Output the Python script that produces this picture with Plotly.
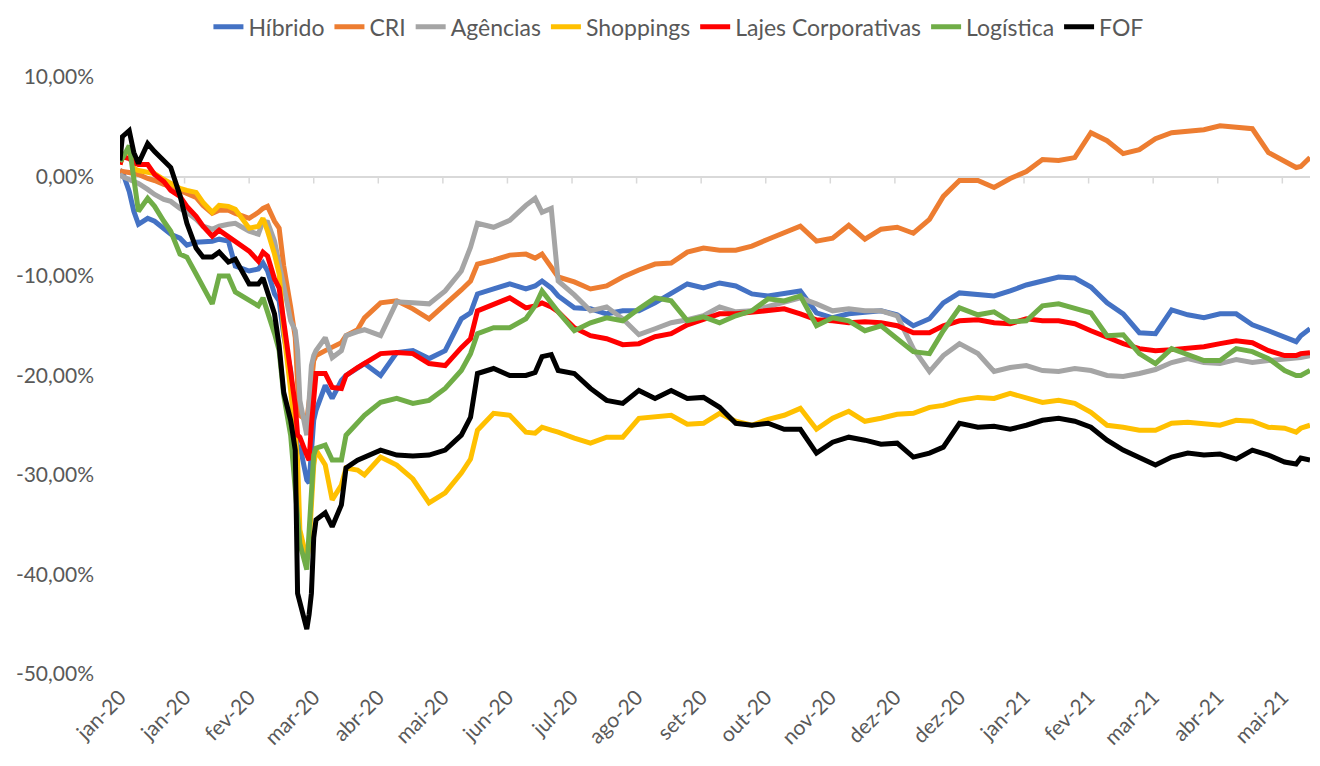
import plotly.graph_objects as go

# ---------------- data ----------------
dates_early = ["2020-01-02", "2020-01-03", "2020-01-06", "2020-01-08", "2020-01-10", "2020-01-14",
               "2020-01-17", "2020-01-21", "2020-01-24", "2020-01-28", "2020-01-31", "2020-02-04",
               "2020-02-07", "2020-02-11", "2020-02-14", "2020-02-18", "2020-02-21", "2020-02-27",
               "2020-03-02", "2020-03-04", "2020-03-06", "2020-03-09", "2020-03-11", "2020-03-13",
               "2020-03-16", "2020-03-18", "2020-03-19", "2020-03-20", "2020-03-23", "2020-03-24",
               "2020-03-25", "2020-03-26", "2020-03-27", "2020-03-31", "2020-04-03", "2020-04-07",
               "2020-04-09", "2020-04-14", "2020-04-17"]
dates_late = ["2020-04-24", "2020-05-01", "2020-05-08", "2020-05-15", "2020-05-22", "2020-05-29",
              "2020-06-02", "2020-06-05", "2020-06-12", "2020-06-19", "2020-06-26", "2020-06-30",
              "2020-07-03", "2020-07-07", "2020-07-10", "2020-07-17", "2020-07-24", "2020-07-31",
              "2020-08-07", "2020-08-14", "2020-08-21", "2020-08-28", "2020-09-04", "2020-09-11",
              "2020-09-18", "2020-09-25", "2020-10-02", "2020-10-09", "2020-10-16", "2020-10-23",
              "2020-10-30", "2020-11-06", "2020-11-13", "2020-11-20", "2020-11-27", "2020-12-04",
              "2020-12-11", "2020-12-18", "2020-12-24", "2020-12-31", "2021-01-08", "2021-01-15",
              "2021-01-22", "2021-01-29", "2021-02-05", "2021-02-12", "2021-02-19", "2021-02-26",
              "2021-03-05", "2021-03-12", "2021-03-19", "2021-03-26", "2021-04-02", "2021-04-09",
              "2021-04-16", "2021-04-23", "2021-04-30", "2021-05-07", "2021-05-14", "2021-05-21",
              "2021-05-26", "2021-05-28", "2021-06-01"]
dates = dates_early + dates_late

hibrido = [0.6, 0.5, -1.5, -3.5, -4.8, -4.2, -4.5, -5.3, -5.8, -6.2, -6.9, -6.6, -6.6, -6.5, -6.3,
           -6.5, -9.0, -9.5, -9.3, -8.7, -9.5, -11.8, -12.5, -16.0, -19.5, -25.0, -27.5, -27.0,
           -30.5, -30.8, -27.0, -24.5, -23.5, -21.0, -22.3, -20.5, -20.0, -19.3, -18.8,
           -20.0, -17.7, -17.5, -18.3, -17.5, -14.3, -13.7, -11.8, -11.3, -10.8, -11.3, -11.0,
           -10.5, -11.2, -12.0, -13.2, -13.3, -13.8, -13.5, -13.5, -12.7, -11.8, -10.8, -11.2,
           -10.7, -11.0, -11.8, -12.0, -11.7, -11.5, -13.7, -14.2, -13.8, -13.7, -13.5, -13.9,
           -15.0, -14.3, -12.7, -11.7, -11.9, -12.0, -11.5, -10.9, -10.5, -10.1, -10.2, -11.1,
           -12.7, -13.8, -15.7, -15.8, -13.4, -13.9, -14.2, -13.8, -13.8, -14.9, -15.5, -16.2,
           -16.6, -16.0, -15.3]
cri = [0.6, 0.5, 0.4, 0.3, 0.2, -0.2, -0.4, -0.8, -1.0, -1.4, -1.7, -2.1, -2.9, -3.7, -3.4,
       -3.4, -3.7, -4.2, -3.6, -3.2, -3.0, -4.5, -5.2, -9.0, -13.1, -16.2, -20.8, -24.0, -24.5,
       -23.0, -20.8, -18.5, -18.0, -17.5, -17.2, -16.7, -16.0, -15.4, -14.2,
       -12.7, -12.5, -13.3, -14.3, -12.9, -11.4, -10.5, -8.8, -8.4, -7.9, -7.8, -8.2, -7.8,
       -9.2, -10.1, -10.6, -11.3, -11.0, -10.1, -9.4, -8.8, -8.7, -7.6, -7.2, -7.4, -7.4,
       -7.0, -6.3, -5.7, -5.0, -6.5, -6.2, -4.9, -6.3, -5.3, -5.1, -5.7, -4.3, -2.0, -0.4,
       -0.4, -1.1, -0.2, 0.5, 1.7, 1.6, 1.9, 4.4, 3.6, 2.3, 2.7, 3.8, 4.4, 4.5, 4.7, 5.1, 5.0,
       4.8, 2.4, 1.5, 0.9, 1.0, 1.9]
agencias = [0.2, 0.0, -0.3, -0.5, -0.7, -1.3, -1.8, -2.3, -2.5, -3.2, -3.6, -4.3, -5.0, -5.3,
            -5.0, -4.8, -4.7, -5.5, -5.8, -4.5, -4.6, -6.5, -8.5, -11.0, -14.5, -15.5, -17.5,
            -22.5, -26.0, -23.0, -19.0, -18.0, -17.5, -16.2, -18.2, -17.5, -16.0, -15.6, -15.4,
            -16.0, -12.6, -12.7, -12.8, -11.5, -9.5, -7.1, -4.7, -5.1, -4.4, -2.9, -2.2, -3.6,
            -3.2, -10.5, -11.9, -13.5, -13.1, -14.3, -15.9, -15.3, -14.7, -14.4, -14.0, -13.1,
            -13.6, -13.5, -13.1, -12.7, -12.2, -12.8, -13.5, -13.3, -13.5, -13.5, -14.0, -17.3,
            -19.6, -18.0, -16.8, -17.8, -19.6, -19.2, -19.0, -19.5, -19.6, -19.3, -19.5, -20.0,
            -20.1, -19.8, -19.4, -18.7, -18.3, -18.7, -18.8, -18.4, -18.7, -18.5, -18.4, -18.3,
            -18.2, -18.0]
shoppings = [1.2, 2.0, 2.7, 0.8, 0.6, 0.4, 0.3, -0.3, -0.7, -1.2, -1.4, -1.6, -2.6, -3.6, -2.9,
             -3.0, -3.3, -5.2, -5.0, -4.2, -5.5, -7.8, -9.8, -15.5, -21.5, -25.5, -28.5, -35.5,
             -38.5, -37.0, -33.0, -29.0, -27.5, -29.0, -32.5, -31.0, -29.3, -29.5, -30.0,
             -28.2, -29.0, -30.4, -32.8, -31.8, -29.8, -28.4, -25.5, -23.8, -24.0, -25.7, -25.8,
             -25.2, -25.5, -25.7, -26.3, -26.8, -26.2, -26.2, -24.3, -24.2, -24.0, -24.9, -24.8,
             -23.8, -24.6, -25.0, -24.4, -24.0, -23.3, -25.4, -24.3, -23.6, -24.6, -24.3, -23.9,
             -23.8, -23.2, -23.0, -22.5, -22.2, -22.3, -21.8, -22.3, -22.7, -22.5, -22.8, -23.7,
             -25.0, -25.2, -25.5, -25.5, -24.8, -24.7, -24.9, -25.0, -24.5, -24.6, -25.2, -25.3,
             -25.7, -25.3, -25.0]
lajes = [1.2, 2.0, 1.8, 1.4, 1.2, 1.2, 0.2, -0.5, -1.4, -2.0, -3.0, -4.0, -5.0, -6.0, -5.4,
         -6.0, -6.5, -7.5, -8.5, -7.6, -8.0, -10.3, -11.2, -14.5, -18.8, -23.0, -26.0, -26.2,
         -28.0, -28.5, -25.0, -21.5, -19.8, -19.8, -21.2, -21.3, -20.0, -19.2, -18.8,
         -17.8, -17.7, -17.8, -18.8, -19.0, -17.2, -16.3, -13.5, -12.9, -12.2, -13.2, -13.0,
         -12.7, -13.1, -13.6, -15.2, -16.0, -16.3, -16.9, -16.8, -16.1, -15.8, -14.9, -14.3,
         -13.8, -13.8, -13.6, -13.4, -13.3, -13.8, -14.4, -14.5, -14.7, -14.6, -14.7, -15.0,
         -15.7, -15.7, -15.0, -14.5, -14.4, -14.7, -14.8, -14.3, -14.5, -14.5, -14.8, -15.5,
         -16.2, -16.8, -17.3, -17.5, -17.4, -17.3, -17.1, -16.8, -16.5, -16.7, -17.5, -18.0,
         -18.0, -17.8, -17.7]
logistica = [1.5, 1.8, 3.1, -0.3, -3.5, -2.2, -3.0, -4.5, -5.5, -7.8, -8.1, -9.8, -11.0, -12.8,
             -10.0, -10.0, -11.6, -12.5, -13.0, -12.2, -13.5, -15.8, -17.5, -22.0, -26.0, -32.0,
             -34.0, -36.9, -39.5, -36.0, -32.0, -28.0, -27.3, -27.0, -28.5, -28.5, -26.0, -24.8,
             -24.0,
             -22.7, -22.3, -22.8, -22.5, -21.3, -19.5, -17.8, -15.8, -15.2, -15.2, -14.3, -13.0,
             -11.5, -12.8, -13.6, -15.5, -14.7, -14.2, -14.5, -13.3, -12.2, -12.5, -14.5, -14.1,
             -14.7, -14.0, -13.5, -12.3, -12.5, -12.0, -15.0, -14.2, -14.5, -15.5, -15.0, -16.3,
             -17.6, -17.8, -15.5, -13.2, -13.9, -13.6, -14.6, -14.5, -13.0, -12.8, -13.3, -13.7,
             -16.0, -15.9, -17.8, -18.8, -17.3, -17.9, -18.5, -18.5, -17.3, -17.6, -18.3, -19.5,
             -20.0, -20.0, -19.5]
fof = [1.6, 4.0, 4.6, 2.4, 1.3, 3.3, 2.5, 1.6, 0.9, -1.9, -4.7, -7.2, -8.1, -8.1, -7.6, -8.6,
       -8.3, -10.8, -10.8, -10.2, -11.5, -13.8, -17.0, -21.7, -24.5, -27.5, -41.9, -42.9, -45.5,
       -44.0, -41.9, -36.3, -34.5, -33.8, -35.2, -33.0, -29.3, -28.5, -28.2,
       -27.5, -28.0, -28.1, -28.0, -27.5, -26.0, -24.2, -19.8, -19.3, -20.0, -20.0, -19.7,
       -18.1, -17.9, -19.5, -19.8, -21.3, -22.5, -22.8, -21.5, -22.3, -21.5, -22.3, -22.2,
       -23.2, -24.8, -25.0, -24.8, -25.4, -25.4, -27.8, -26.7, -26.2, -26.5, -26.9, -26.8,
       -28.2, -27.8, -27.2, -24.8, -25.2, -25.1, -25.4, -25.0, -24.5, -24.3, -24.6, -25.2,
       -26.5, -27.5, -28.2, -29.0, -28.2, -27.8, -28.0, -27.9, -28.4, -27.5, -28.0, -28.7,
       -28.9, -28.3, -28.5]

series_names = ["Híbrido", "CRI", "Agências", "Shoppings", "Lajes Corporativas", "Logística", "FOF"]
series_values = [hibrido, cri, agencias, shoppings, lajes, logistica, fof]
series_colors = ["#4472C4", "#ED7D31", "#A5A5A5", "#FFC000", "#FF0000", "#70AD47", "#000000"]

x_tick_dates = ["2020-01-02", "2020-01-30", "2020-02-27", "2020-03-26", "2020-04-23", "2020-05-21",
                "2020-06-18", "2020-07-16", "2020-08-13", "2020-09-10", "2020-10-08", "2020-11-05",
                "2020-12-03", "2020-12-31", "2021-01-28", "2021-02-25", "2021-03-25", "2021-04-22",
                "2021-05-20"]
x_tick_labels = ["jan-20", "jan-20", "fev-20", "mar-20", "abr-20", "mai-20", "jun-20", "jul-20",
                 "ago-20", "set-20", "out-20", "nov-20", "dez-20", "dez-20", "jan-21", "fev-21",
                 "mar-21", "abr-21", "mai-21"]
y_tick_values = [10, 0, -10, -20, -30, -40, -50]
y_tick_labels = ["10,00%", "0,00%", "-10,00%", "-20,00%", "-30,00%", "-40,00%", "-50,00%"]

for v in series_values:
    assert len(v) == len(dates), len(v)

# ---------------- figure ----------------
FONT = "Lato"
TXT = "#595959"

fig = go.Figure()
for name, vals, color in zip(series_names, series_values, series_colors):
    fig.add_trace(go.Scatter(x=dates, y=vals, mode="lines", name=name,
                             line=dict(color=color, width=5)))

# small tick marks below the horizontal (zero) axis
for d in x_tick_dates:
    fig.add_shape(type="line", xref="x", yref="y", x0=d, x1=d,
                  ysizemode="pixel", yanchor=0, y0=0, y1=-7,
                  line=dict(color="#D9D9D9", width=1.5), layer="below")

# the page body has an 8px margin, so the figure is sized 8px smaller
fig.update_layout(
    width=1312, height=758,
    margin=dict(l=112, r=10, t=69, b=92, autoexpand=False),
    paper_bgcolor="white", plot_bgcolor="white",
    font=dict(family=FONT, color=TXT),
    showlegend=True,
    legend=dict(orientation="h", xref="container", yref="paper",
                x=0.511, xanchor="center", y=1.084, yanchor="middle",
                font=dict(family=FONT, size=23, color=TXT),
                itemwidth=30, bgcolor="rgba(0,0,0,0)"),
)
fig.update_xaxes(type="date", range=["2020-01-02", "2021-06-01"],
                 tickmode="array", tickvals=x_tick_dates, ticktext=x_tick_labels,
                 tickangle=-45, tickfont=dict(family=FONT, size=21, color=TXT),
                 showgrid=False, showline=False, zeroline=False, ticks="",
                 ticklabelstandoff=6)
fig.update_yaxes(range=[-50, 10], tickmode="array", tickvals=y_tick_values,
                 ticktext=y_tick_labels, tickfont=dict(family=FONT, size=21, color=TXT),
                 showgrid=False, showline=False, ticks="",
                 zeroline=True, zerolinecolor="#D9D9D9", zerolinewidth=1.5,
                 ticklabelstandoff=25)

fig.write_html("out.html")
